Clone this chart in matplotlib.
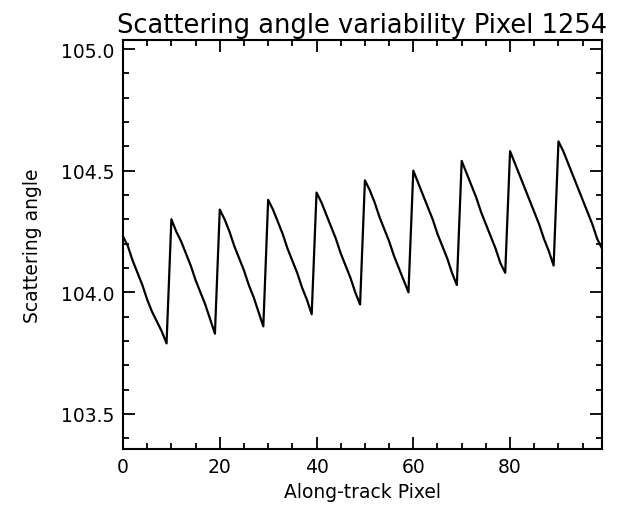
import matplotlib

matplotlib.use("Agg")
import matplotlib.pyplot as plt
from matplotlib.ticker import MultipleLocator

# along-track pixel index 0..99
pixel = list(range(100))

# scattering angle, one list per 10-pixel cycle
cycle_0 = [104.23, 104.19, 104.13, 104.08, 104.03, 103.97, 103.92, 103.88, 103.84, 103.79]
cycle_1 = [104.30, 104.25, 104.21, 104.16, 104.11, 104.05, 104.00, 103.95, 103.89, 103.83]
cycle_2 = [104.34, 104.30, 104.25, 104.19, 104.14, 104.09, 104.03, 103.98, 103.92, 103.86]
cycle_3 = [104.38, 104.34, 104.29, 104.24, 104.18, 104.13, 104.08, 104.02, 103.97, 103.91]
cycle_4 = [104.41, 104.37, 104.32, 104.27, 104.22, 104.16, 104.11, 104.06, 104.00, 103.95]
cycle_5 = [104.46, 104.42, 104.37, 104.31, 104.26, 104.21, 104.15, 104.10, 104.05, 104.00]
cycle_6 = [104.50, 104.45, 104.40, 104.35, 104.30, 104.24, 104.19, 104.14, 104.08, 104.03]
cycle_7 = [104.54, 104.49, 104.44, 104.39, 104.33, 104.28, 104.23, 104.18, 104.12, 104.08]
cycle_8 = [104.58, 104.53, 104.48, 104.43, 104.38, 104.33, 104.28, 104.22, 104.17, 104.11]
cycle_9 = [104.62, 104.58, 104.53, 104.48, 104.43, 104.38, 104.33, 104.28, 104.22, 104.18]

angle = (cycle_0 + cycle_1 + cycle_2 + cycle_3 + cycle_4
         + cycle_5 + cycle_6 + cycle_7 + cycle_8 + cycle_9)

x_ticks = [0, 20, 40, 60, 80]
y_ticks = [103.5, 104.0, 104.5, 105.0]

fig = plt.figure(figsize=(6.2, 5.06), dpi=100)
ax = fig.add_axes([123 / 620, 1 - 450 / 506, (602 - 123) / 620, (450 - 41) / 506])

ax.plot(pixel, angle, color="black", linewidth=1.6)

ax.set_xlim(0, 99)
ax.set_ylim(103.356, 105.037)
ax.set_xticks(x_ticks)
ax.set_yticks(y_ticks)
ax.set_yticklabels([f"{v:.1f}" for v in y_ticks])
ax.xaxis.set_minor_locator(MultipleLocator(5))
ax.yaxis.set_minor_locator(MultipleLocator(0.1))
ax.tick_params(which="both", direction="in", top=True, right=True,
               width=1.3, labelsize=13.5, pad=6)
ax.tick_params(which="major", length=8.5)
ax.tick_params(which="minor", length=4.5)
for spine in ax.spines.values():
    spine.set_linewidth(1.5)

ax.set_title("Scattering angle variability Pixel 1254", fontsize=18.5, pad=6)
ax.set_xlabel("Along-track Pixel", fontsize=13.5, labelpad=4)
ax.set_ylabel("Scattering angle", fontsize=13.5, labelpad=14)

fig.savefig("out.png", dpi=100)
plt.close(fig)
